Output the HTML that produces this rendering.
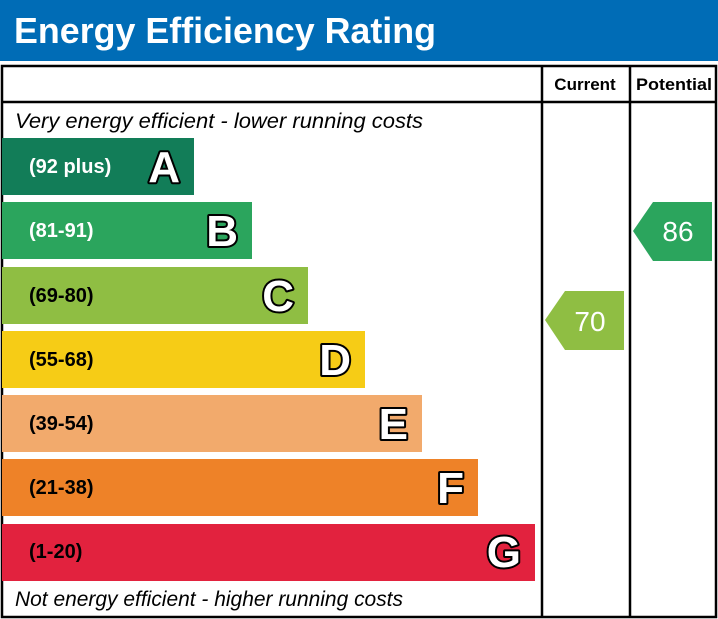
<!DOCTYPE html>
<html><head><style>body{margin:0;background:#fff}svg{display:block}.L{font-weight:900;font-size:44px;fill:#fff;stroke:#000;stroke-width:4;paint-order:stroke;stroke-linejoin:round}</style></head><body>
<svg width="718" height="619" viewBox="0 0 718 619" xmlns="http://www.w3.org/2000/svg" font-family="Liberation Sans, Arial, sans-serif">
<rect x="0" y="0" width="718" height="61" fill="#006cb6"/>
<text x="14" y="43" font-size="36" font-weight="bold" fill="#fff" textLength="422" lengthAdjust="spacingAndGlyphs">Energy Efficiency Rating</text>
<rect x="2" y="66" width="714" height="551" fill="none" stroke="#000" stroke-width="2.5"/>
<line x1="2" y1="102" x2="716" y2="102" stroke="#000" stroke-width="2.5"/>
<line x1="542" y1="66" x2="542" y2="617" stroke="#000" stroke-width="2.5"/>
<line x1="630" y1="66" x2="630" y2="617" stroke="#000" stroke-width="2.5"/>
<text x="585" y="90" font-size="17" font-weight="bold" text-anchor="middle">Current</text>
<text x="674" y="90" font-size="17" font-weight="bold" text-anchor="middle" textLength="76" lengthAdjust="spacingAndGlyphs">Potential</text>
<text x="15" y="128" font-size="21" font-style="italic" textLength="408" lengthAdjust="spacingAndGlyphs">Very energy efficient - lower running costs</text>
<text x="15" y="606" font-size="21" font-style="italic" textLength="388" lengthAdjust="spacingAndGlyphs">Not energy efficient - higher running costs</text>
<g font-weight="bold">
<rect x="2" y="138" width="192" height="57" fill="#127d58"/>
<text x="29" y="173" font-size="20" fill="#fff">(92 plus)</text>
<text x="180" y="182" class="L" text-anchor="end">A</text>
<rect x="2" y="202" width="250" height="57" fill="#2ba55d"/>
<text x="29" y="237" font-size="20" fill="#fff">(81-91)</text>
<text x="238" y="246" class="L" text-anchor="end">B</text>
<rect x="2" y="267" width="306" height="57" fill="#8fbe43"/>
<text x="29" y="302" font-size="20" fill="#000">(69-80)</text>
<text x="294" y="311" class="L" text-anchor="end">C</text>
<rect x="2" y="331" width="363" height="57" fill="#f6cc16"/>
<text x="29" y="366" font-size="20" fill="#000">(55-68)</text>
<text x="351" y="375" class="L" text-anchor="end">D</text>
<rect x="2" y="395" width="420" height="57" fill="#f2aa6c"/>
<text x="29" y="430" font-size="20" fill="#000">(39-54)</text>
<text x="408" y="439" class="L" text-anchor="end">E</text>
<rect x="2" y="459" width="476" height="57" fill="#ee8228"/>
<text x="29" y="494" font-size="20" fill="#000">(21-38)</text>
<text x="464" y="503" class="L" text-anchor="end">F</text>
<rect x="2" y="524" width="533" height="57" fill="#e2223e"/>
<text x="29" y="558" font-size="20" fill="#000">(1-20)</text>
<text x="521" y="567" class="L" text-anchor="end">G</text>
</g>
<polygon points="545,320 565,291 624,291 624,350 565,350" fill="#8fbe43"/>
<text x="590" y="331" font-size="28" fill="#fff" text-anchor="middle">70</text>
<polygon points="633,231 653,202 712,202 712,261 653,261" fill="#2ba55d"/>
<text x="678" y="241" font-size="28" fill="#fff" text-anchor="middle">86</text>
</svg>
</body></html>
